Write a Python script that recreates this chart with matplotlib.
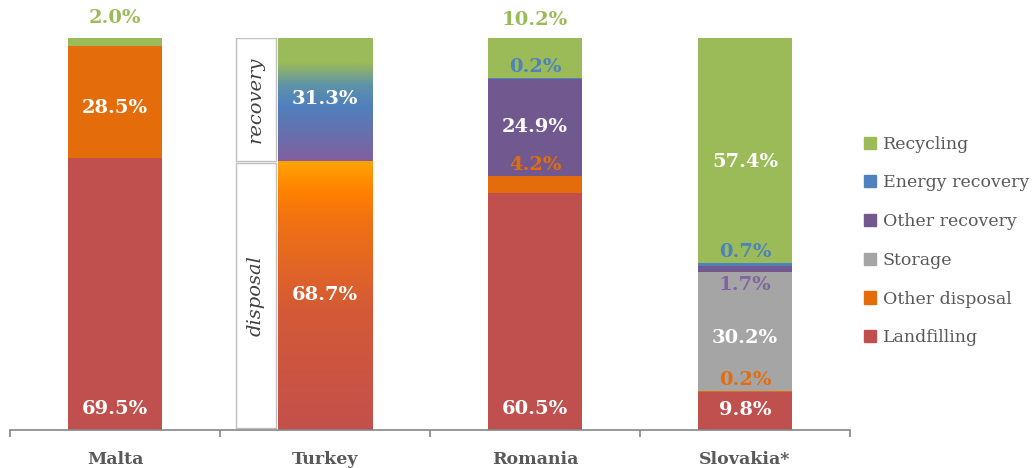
import matplotlib.pyplot as plt
import matplotlib.patches as mpatches
import numpy as np
from matplotlib.colors import LinearSegmentedColormap

# Data (% of waste treated)
countries = ['Malta', 'Turkey', 'Romania', 'Slovakia*']
categories = ['Landfilling', 'Other disposal', 'Storage', 'Other recovery', 'Energy recovery', 'Recycling']
landfilling = [69.5, 0.0, 60.5, 9.8]
other_disposal = [28.5, 0.0, 4.2, 0.2]
storage = [0.0, 0.0, 0.0, 30.2]
other_recovery = [0.0, 0.0, 24.9, 1.7]
energy_recovery = [0.0, 0.0, 0.2, 0.7]
recycling = [2.0, 0.0, 10.2, 57.4]
# Turkey only reports totals
turkey_groups = ['disposal', 'recovery']
turkey_values = [68.7, 31.3]

colors = {'Landfilling': '#C0504D', 'Other disposal': '#E46C0A', 'Storage': '#A5A5A5',
          'Other recovery': '#71588F', 'Energy recovery': '#4F81BD', 'Recycling': '#9BBB59'}
label_colors = {'Landfilling': 'white', 'Other disposal': '#E46C0A', 'Storage': 'white',
                'Other recovery': '#8064A2', 'Energy recovery': '#4F81BD', 'Recycling': '#9BBB59'}

plt.rcParams['font.family'] = 'DejaVu Serif'

fig = plt.figure(figsize=(10.36, 4.68), dpi=100)
ax = fig.add_axes([10 / 1036, 1 - 430 / 468, 840 / 1036, 392 / 468])

series = [landfilling, other_disposal, storage, other_recovery, energy_recovery, recycling]
x = np.arange(len(countries))
width = 0.45
bottom = np.zeros(len(countries))
for name, vals in zip(categories, series):
    vals = np.array(vals)
    ax.bar(x, vals, width, bottom=bottom, color=colors[name], edgecolor='none')
    bottom += vals

# label positions (y in data units) per bar
label_pos = {
    0: [('Landfilling', 5.4, 'white'), ('Other disposal', 82.1, 'white'), ('Recycling', 105.0, None)],
    2: [('Landfilling', 5.4, 'white'), ('Other disposal', 67.6, None), ('Other recovery', 77.3, 'white'),
        ('Energy recovery', 92.6, None), ('Recycling', 104.6, None)],
    3: [('Landfilling', 5.1, 'white'), ('Other disposal', 12.8, None), ('Storage', 23.5, 'white'),
        ('Other recovery', 37.0, None), ('Energy recovery', 45.4, None), ('Recycling', 68.4, 'white')],
}
for i, items in label_pos.items():
    for name, ypos, col in items:
        val = series[categories.index(name)][i]
        ax.text(x[i], ypos, f'{val:.1f}%', ha='center', va='center', fontsize=14,
                fontweight='bold', color=col or label_colors[name], clip_on=False)

# Turkey: gradient bars
grad_disposal = LinearSegmentedColormap.from_list('disp', [
    (0.0, '#C4504C'), (0.45, '#D45A36'), (0.78, '#F07212'), (0.88, '#FF8000'), (1.0, '#FFA400')])
grad_recovery = LinearSegmentedColormap.from_list('rec', [
    (0.0, '#80609F'), (0.45, '#4F80BD'), (0.62, '#5F93A8'), (0.8, '#9BBB59'), (1.0, '#9BBB59')])
tb = 0.0
for grp, val, cmap in zip(turkey_groups, turkey_values, [grad_disposal, grad_recovery]):
    bar = ax.bar(x[1], val, width, bottom=tb, color='none', edgecolor='none')[0]
    gx, gy = bar.get_x(), bar.get_y()
    img = ax.imshow(np.linspace(0, 1, 256).reshape(-1, 1), cmap=cmap, origin='lower', aspect='auto',
                    extent=[gx, gx + bar.get_width(), gy, gy + bar.get_height()], zorder=1)
    img.set_clip_path(bar)
    ax.text(x[1], tb + val / 2, f'{val:.1f}%', ha='center', va='center', fontsize=14,
            fontweight='bold', color='white', zorder=3)
    # side box naming the group
    box = mpatches.Rectangle((0.576, tb + (0.5 if grp == 'disposal' else 0.0)), 0.19,
                             val - (1.2 if grp == 'disposal' else 0.0),
                             facecolor='white', edgecolor='#BFBFBF', linewidth=1, zorder=2)
    ax.add_patch(box)
    ax.text(0.576 + 0.095, tb + val / 2, grp, rotation=90, ha='center', va='center',
            fontsize=14, style='italic', color='#404040', zorder=3)
    tb += val

ax.set_xlim(-0.5, len(countries) - 0.5)
ax.set_ylim(0, 100)
for s in ['top', 'left', 'right']:
    ax.spines[s].set_visible(False)
ax.spines['bottom'].set_color('#868686')
ax.spines['bottom'].set_linewidth(1.2)
ax.set_yticks([])
ax.set_xticks(x)
ax.set_xticklabels(countries, fontsize=12.5, fontweight='bold', color='#595959')
ax.tick_params(axis='x', length=0, pad=15)
ax.set_xticks(np.arange(len(countries) + 1) - 0.5, minor=True)
ax.tick_params(axis='x', which='minor', length=5, width=1.2, color='#868686', direction='out')

handles = [mpatches.Patch(color=colors[c], label=c) for c in categories[::-1]]
fig.legend(handles=handles, loc='center left', bbox_to_anchor=(848 / 1036, 1 - 241 / 468),
           frameon=False, fontsize=12.5, labelcolor='#595959', handlelength=0.7, handleheight=0.7,
           handletextpad=0.4, labelspacing=1.25)

fig.savefig('out.png', dpi=100)
